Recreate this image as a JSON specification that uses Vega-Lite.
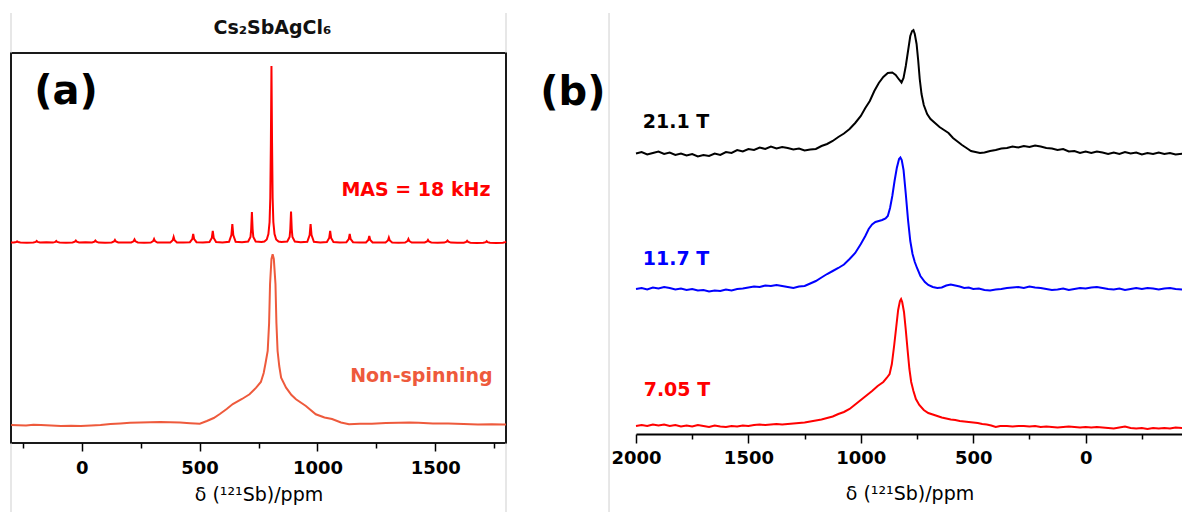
{
"$schema":"https://vega.github.io/schema/vega-lite/v6.json",
"padding":{"left":6,"top":11,"right":0,"bottom":0},
"background":"#ffffff",
"spacing":130,
"bounds":"flush",
"config":{"font":"DejaVu Sans","view":{"stroke":null},"axis":{"grid":false,"labelFont":"DejaVu Sans","titleFont":"DejaVu Sans","labelColor":"#000000","titleColor":"#000000","tickColor":"#000000"}},
"datasets":{
"grayA":[{"x":-300,"y":390,"y2":430},{"x":-300,"y":-70,"y2":0},{"x":1800,"y":390,"y2":430},{"x":1800,"y":-70,"y2":0}],
"grayB":[{"x":2120,"y":-79,"y2":421}],
"txtA":[{"t":"Cs₂SbAgCl₆","x":809,"y":415,"k":"title"},{"t":"(a)","x":-67,"y":351,"k":"big"},{"t":"MAS = 18 kHz","x":1418,"y":253,"k":"lab"},{"t":"Non-spinning","x":1441,"y":67,"k":"lab"}],
"txtB":[{"t":"(b)","x":2281,"y":341,"k":"big"},{"t":"21.1 T","x":1822,"y":312.5,"k":"lab"},{"t":"11.7 T","x":1822,"y":175,"k":"lab"},{"t":"7.05 T","x":1818,"y":44,"k":"lab"}],
"mas":[{"x":-300,"y":200.5},{"x":-288,"y":200.6},{"x":-278,"y":201},{"x":-274,"y":201.5},{"x":-270,"y":201},{"x":-260,"y":200.5},{"x":-233,"y":200.2},{"x":-205,"y":200.5},{"x":-195,"y":201.1},{"x":-191,"y":202},{"x":-187,"y":201.1},{"x":-177,"y":200.5},{"x":-150,"y":200.8},{"x":-122,"y":200.4},{"x":-112,"y":201.1},{"x":-108,"y":202},{"x":-104,"y":201.1},{"x":-94,"y":200.5},{"x":-67,"y":200.2},{"x":-39,"y":200.5},{"x":-29,"y":201.3},{"x":-25,"y":202.5},{"x":-21,"y":201.3},{"x":-11,"y":200.5},{"x":16,"y":200.7},{"x":44,"y":200.5},{"x":54,"y":201.3},{"x":58,"y":202.5},{"x":62,"y":201.3},{"x":72,"y":200.4},{"x":99,"y":200.3},{"x":127,"y":200.5},{"x":137,"y":201.5},{"x":141,"y":203},{"x":145,"y":201.5},{"x":155,"y":200.5},{"x":182,"y":200.6},{"x":210,"y":200.5},{"x":220,"y":201.7},{"x":224,"y":203.5},{"x":228,"y":201.7},{"x":238,"y":200.5},{"x":265,"y":200.3},{"x":293,"y":200.5},{"x":303,"y":201.9},{"x":307,"y":204},{"x":311,"y":201.9},{"x":321,"y":200.5},{"x":348,"y":200.6},{"x":376,"y":200.6},{"x":386,"y":202.7},{"x":390,"y":206},{"x":394,"y":202.7},{"x":404,"y":200.6},{"x":431,"y":200.4},{"x":459,"y":200.8},{"x":469,"y":203.9},{"x":473,"y":209},{"x":477,"y":203.9},{"x":487,"y":200.8},{"x":514,"y":200.5},{"x":542,"y":201},{"x":552,"y":205.1},{"x":556,"y":212},{"x":560,"y":205.1},{"x":570,"y":201},{"x":597,"y":200.6},{"x":625,"y":201.2},{"x":635,"y":207.9},{"x":639,"y":219},{"x":643,"y":207.9},{"x":653,"y":201.2},{"x":680,"y":200.7},{"x":706,"y":201.5},{"x":716,"y":206},{"x":719,"y":214},{"x":722,"y":231},{"x":725,"y":214},{"x":728,"y":206},{"x":738,"y":201.5},{"x":763,"y":201},{"x":775,"y":201.5},{"x":785,"y":203.5},{"x":792,"y":209},{"x":797,"y":221},{"x":800,"y":245},{"x":802.5,"y":300},{"x":805,"y":377},{"x":807.5,"y":300},{"x":810,"y":245},{"x":813,"y":221},{"x":818,"y":209},{"x":825,"y":203.5},{"x":835,"y":201.5},{"x":847,"y":201},{"x":872,"y":201.5},{"x":882,"y":206},{"x":885,"y":214},{"x":888,"y":231.5},{"x":891,"y":214},{"x":894,"y":206},{"x":904,"y":201.5},{"x":929,"y":200.8},{"x":957,"y":201.2},{"x":967,"y":207.9},{"x":971,"y":219},{"x":975,"y":207.9},{"x":985,"y":201.2},{"x":1012,"y":200.6},{"x":1040,"y":201},{"x":1050,"y":205.1},{"x":1054,"y":212},{"x":1058,"y":205.1},{"x":1068,"y":201},{"x":1095,"y":200.5},{"x":1123,"y":200.8},{"x":1133,"y":203.9},{"x":1137,"y":209},{"x":1141,"y":203.9},{"x":1151,"y":200.8},{"x":1178,"y":200.4},{"x":1206,"y":200.6},{"x":1216,"y":203.1},{"x":1220,"y":207},{"x":1224,"y":203.1},{"x":1234,"y":200.6},{"x":1261,"y":200.5},{"x":1289,"y":200.5},{"x":1299,"y":202.5},{"x":1303,"y":205.5},{"x":1307,"y":202.5},{"x":1317,"y":200.5},{"x":1344,"y":200.3},{"x":1372,"y":200.5},{"x":1382,"y":201.9},{"x":1386,"y":204},{"x":1390,"y":201.9},{"x":1400,"y":200.5},{"x":1427,"y":200.6},{"x":1455,"y":200.5},{"x":1465,"y":201.5},{"x":1469,"y":203},{"x":1473,"y":201.5},{"x":1483,"y":200.5},{"x":1510,"y":200.3},{"x":1538,"y":200.4},{"x":1548,"y":201.3},{"x":1552,"y":202.5},{"x":1556,"y":201.3},{"x":1566,"y":200.4},{"x":1593,"y":200.2},{"x":1621,"y":200.3},{"x":1631,"y":201.1},{"x":1635,"y":202.2},{"x":1639,"y":201.1},{"x":1649,"y":200.3},{"x":1676,"y":200},{"x":1704,"y":200.2},{"x":1714,"y":200.9},{"x":1718,"y":201.8},{"x":1722,"y":200.9},{"x":1732,"y":200.2},{"x":1759,"y":200},{"x":1787,"y":200.3},{"x":1797,"y":200.9},{"x":1800,"y":201.5}],
"ns":[{"x":-299,"y":18},{"x":-270,"y":17.8},{"x":-236,"y":17.5},{"x":-205,"y":18.2},{"x":-173,"y":18},{"x":-130,"y":17.6},{"x":-88,"y":17},{"x":-45,"y":17.3},{"x":-4,"y":17},{"x":40,"y":17.6},{"x":80,"y":18},{"x":122,"y":19},{"x":164,"y":19.5},{"x":205,"y":20.2},{"x":249,"y":20.5},{"x":290,"y":20.8},{"x":333,"y":21},{"x":375,"y":20.7},{"x":417,"y":20.5},{"x":460,"y":19.8},{"x":501,"y":19.3},{"x":531,"y":22},{"x":560,"y":25},{"x":586,"y":29},{"x":615,"y":34},{"x":641,"y":39},{"x":680,"y":44},{"x":712,"y":48.7},{"x":740,"y":55.3},{"x":760,"y":61},{"x":772,"y":70},{"x":780,"y":80},{"x":789,"y":92},{"x":795,"y":120},{"x":799,"y":159},{"x":805,"y":184},{"x":810,"y":188.7},{"x":815,"y":184},{"x":822,"y":159},{"x":826,"y":120},{"x":831,"y":92},{"x":838,"y":77},{"x":846,"y":65.3},{"x":867,"y":55.3},{"x":890,"y":48},{"x":909,"y":43.7},{"x":951,"y":37},{"x":993,"y":28.7},{"x":1030,"y":25.5},{"x":1062,"y":24},{"x":1100,"y":20.5},{"x":1134,"y":18.7},{"x":1180,"y":19.3},{"x":1231,"y":19.3},{"x":1290,"y":20},{"x":1344,"y":20.3},{"x":1390,"y":20.5},{"x":1429,"y":20.3},{"x":1490,"y":19.5},{"x":1555,"y":19.5},{"x":1620,"y":19},{"x":1681,"y":18.5},{"x":1740,"y":18.8},{"x":1787,"y":18.5},{"x":1800,"y":18.6}],
"b21":[{"x":2000,"y":280.5},{"x":1975,"y":282},{"x":1950,"y":279.5},{"x":1925,"y":281},{"x":1900,"y":282.5},{"x":1875,"y":280},{"x":1850,"y":281.5},{"x":1825,"y":279},{"x":1800,"y":280.5},{"x":1775,"y":278.5},{"x":1750,"y":280},{"x":1725,"y":277.5},{"x":1700,"y":279},{"x":1675,"y":278},{"x":1650,"y":280.5},{"x":1625,"y":279},{"x":1600,"y":282},{"x":1575,"y":281},{"x":1550,"y":284},{"x":1525,"y":282.5},{"x":1500,"y":285},{"x":1475,"y":284},{"x":1450,"y":286.5},{"x":1425,"y":285},{"x":1400,"y":287.5},{"x":1375,"y":285.5},{"x":1350,"y":287},{"x":1325,"y":286},{"x":1300,"y":284.5},{"x":1275,"y":285.5},{"x":1250,"y":283.5},{"x":1225,"y":284.5},{"x":1200,"y":285},{"x":1175,"y":288},{"x":1150,"y":290},{"x":1125,"y":293},{"x":1100,"y":297},{"x":1075,"y":300.5},{"x":1050,"y":305},{"x":1025,"y":311},{"x":1000,"y":318},{"x":980,"y":326},{"x":960,"y":333},{"x":940,"y":343},{"x":920,"y":351},{"x":900,"y":357},{"x":880,"y":361},{"x":860,"y":361.5},{"x":845,"y":359},{"x":830,"y":354.5},{"x":819,"y":351.5},{"x":810,"y":356},{"x":800,"y":368},{"x":790,"y":383},{"x":780,"y":398},{"x":772,"y":403},{"x":766,"y":404},{"x":760,"y":400},{"x":752,"y":390},{"x":745,"y":374},{"x":738,"y":355},{"x":730,"y":340},{"x":720,"y":329},{"x":705,"y":320},{"x":690,"y":315},{"x":670,"y":311},{"x":650,"y":307},{"x":630,"y":304},{"x":610,"y":301},{"x":590,"y":296},{"x":570,"y":292.5},{"x":550,"y":289},{"x":530,"y":286},{"x":510,"y":283},{"x":490,"y":282},{"x":470,"y":281},{"x":450,"y":281.5},{"x":425,"y":283},{"x":400,"y":284},{"x":375,"y":285.5},{"x":350,"y":286},{"x":325,"y":287.5},{"x":300,"y":286.5},{"x":275,"y":288},{"x":250,"y":287},{"x":225,"y":288.5},{"x":200,"y":287.5},{"x":175,"y":286},{"x":150,"y":285.5},{"x":125,"y":284},{"x":100,"y":285},{"x":75,"y":282.5},{"x":50,"y":283},{"x":25,"y":281},{"x":0,"y":282.5},{"x":-25,"y":281},{"x":-50,"y":282.5},{"x":-75,"y":281.5},{"x":-100,"y":280},{"x":-125,"y":281.5},{"x":-150,"y":280},{"x":-175,"y":282},{"x":-200,"y":280.5},{"x":-225,"y":281.5},{"x":-250,"y":279.5},{"x":-275,"y":281},{"x":-300,"y":280},{"x":-325,"y":281.5},{"x":-350,"y":280},{"x":-375,"y":281},{"x":-400,"y":279.5},{"x":-433,"y":280.5}],
"b11":[{"x":2000,"y":145},{"x":1975,"y":146},{"x":1950,"y":144.5},{"x":1925,"y":146.5},{"x":1900,"y":145.5},{"x":1875,"y":147},{"x":1850,"y":146},{"x":1825,"y":144.5},{"x":1800,"y":145.5},{"x":1775,"y":144},{"x":1750,"y":145},{"x":1725,"y":143.5},{"x":1700,"y":144},{"x":1675,"y":142.5},{"x":1650,"y":143.5},{"x":1625,"y":143},{"x":1600,"y":144.5},{"x":1575,"y":143.5},{"x":1550,"y":145},{"x":1525,"y":145.5},{"x":1500,"y":146.5},{"x":1475,"y":147.5},{"x":1450,"y":147},{"x":1425,"y":148.5},{"x":1400,"y":148},{"x":1375,"y":149},{"x":1350,"y":148},{"x":1325,"y":147},{"x":1300,"y":146},{"x":1275,"y":147.5},{"x":1250,"y":148},{"x":1225,"y":150.5},{"x":1200,"y":153},{"x":1175,"y":156.5},{"x":1150,"y":160},{"x":1125,"y":163},{"x":1100,"y":166},{"x":1075,"y":169.5},{"x":1050,"y":175},{"x":1025,"y":181},{"x":1000,"y":190},{"x":980,"y":198},{"x":965,"y":205},{"x":950,"y":209.5},{"x":935,"y":212},{"x":920,"y":213},{"x":905,"y":214},{"x":890,"y":215.5},{"x":880,"y":218},{"x":870,"y":226},{"x":860,"y":238},{"x":850,"y":253},{"x":840,"y":266},{"x":830,"y":275},{"x":824,"y":276.5},{"x":818,"y":274},{"x":810,"y":264},{"x":800,"y":240},{"x":790,"y":214},{"x":780,"y":193},{"x":770,"y":180},{"x":760,"y":172},{"x":750,"y":166},{"x":735,"y":158},{"x":715,"y":152},{"x":700,"y":149},{"x":680,"y":147},{"x":660,"y":146},{"x":640,"y":146.5},{"x":620,"y":148.5},{"x":600,"y":149.5},{"x":580,"y":148.5},{"x":560,"y":147.5},{"x":540,"y":146},{"x":520,"y":146.5},{"x":500,"y":145},{"x":475,"y":145.5},{"x":450,"y":144},{"x":425,"y":143.5},{"x":400,"y":144.5},{"x":375,"y":145},{"x":350,"y":146},{"x":325,"y":146.5},{"x":300,"y":147},{"x":275,"y":146},{"x":250,"y":147.5},{"x":225,"y":146.5},{"x":200,"y":146},{"x":175,"y":145},{"x":150,"y":144},{"x":125,"y":144.5},{"x":100,"y":145.5},{"x":75,"y":144},{"x":50,"y":145},{"x":25,"y":146},{"x":0,"y":145.5},{"x":-25,"y":146.5},{"x":-50,"y":147},{"x":-75,"y":146},{"x":-100,"y":145},{"x":-125,"y":144.5},{"x":-150,"y":145.5},{"x":-175,"y":144},{"x":-200,"y":145},{"x":-225,"y":146},{"x":-250,"y":145},{"x":-275,"y":146},{"x":-300,"y":145.5},{"x":-325,"y":144.5},{"x":-350,"y":145.5},{"x":-375,"y":146},{"x":-400,"y":145},{"x":-433,"y":144.5}],
"b7":[{"x":2000,"y":8},{"x":1975,"y":9},{"x":1950,"y":8},{"x":1925,"y":9.5},{"x":1900,"y":8.5},{"x":1875,"y":9.5},{"x":1850,"y":8},{"x":1825,"y":9},{"x":1800,"y":7.5},{"x":1775,"y":8.5},{"x":1750,"y":7.5},{"x":1725,"y":9},{"x":1700,"y":8},{"x":1675,"y":7},{"x":1650,"y":8.5},{"x":1625,"y":7.5},{"x":1600,"y":7},{"x":1575,"y":8},{"x":1550,"y":7.5},{"x":1525,"y":8.5},{"x":1500,"y":8},{"x":1475,"y":9},{"x":1450,"y":9.5},{"x":1425,"y":9},{"x":1400,"y":9.5},{"x":1375,"y":10},{"x":1350,"y":9.5},{"x":1325,"y":10},{"x":1300,"y":10.5},{"x":1275,"y":11},{"x":1250,"y":11.5},{"x":1225,"y":12.5},{"x":1200,"y":13.5},{"x":1175,"y":14.5},{"x":1150,"y":16},{"x":1125,"y":17.5},{"x":1100,"y":20},{"x":1075,"y":22},{"x":1050,"y":25},{"x":1025,"y":29.5},{"x":1000,"y":34},{"x":975,"y":38.5},{"x":950,"y":43},{"x":925,"y":48},{"x":900,"y":52},{"x":885,"y":56},{"x":872,"y":60},{"x":862,"y":70},{"x":852,"y":88},{"x":842,"y":108},{"x":834,"y":124},{"x":826,"y":133},{"x":821,"y":135},{"x":816,"y":132},{"x":808,"y":122},{"x":800,"y":104},{"x":792,"y":84},{"x":784,"y":65},{"x":776,"y":52},{"x":766,"y":43},{"x":755,"y":35},{"x":740,"y":29},{"x":720,"y":24},{"x":700,"y":21},{"x":680,"y":19.5},{"x":660,"y":18},{"x":640,"y":16.5},{"x":620,"y":15.5},{"x":600,"y":14.5},{"x":580,"y":14},{"x":560,"y":13},{"x":540,"y":12.5},{"x":520,"y":12},{"x":500,"y":11.5},{"x":480,"y":11},{"x":460,"y":10},{"x":440,"y":9.5},{"x":420,"y":8.5},{"x":400,"y":7},{"x":380,"y":8},{"x":350,"y":8},{"x":325,"y":7.5},{"x":300,"y":8},{"x":275,"y":8},{"x":250,"y":7.5},{"x":225,"y":8},{"x":200,"y":7},{"x":175,"y":7.5},{"x":150,"y":7},{"x":125,"y":6.5},{"x":100,"y":7},{"x":75,"y":7.5},{"x":50,"y":7},{"x":25,"y":6.5},{"x":0,"y":7},{"x":-25,"y":6.5},{"x":-50,"y":7},{"x":-75,"y":6.5},{"x":-100,"y":6},{"x":-125,"y":5.5},{"x":-150,"y":6.5},{"x":-175,"y":7.5},{"x":-200,"y":6},{"x":-225,"y":5.5},{"x":-250,"y":6},{"x":-275,"y":5},{"x":-300,"y":6},{"x":-325,"y":5.5},{"x":-350,"y":6},{"x":-375,"y":5.5},{"x":-400,"y":6.5},{"x":-433,"y":6}]
},
"hconcat":[
{"width":495,"height":390,
 "view":{"stroke":"#1a1a1a","strokeWidth":2},
 "encoding":{
  "x":{"field":"x","type":"quantitative","scale":{"domain":[-300,1800],"nice":false,"zero":false},
   "axis":{"title":"δ (¹²¹Sb)/ppm","values":[-250,0,250,500,750,1000,1250,1500,1750],"format":"d","labelExpr":"datum.value % 500 === 0 ? datum.label : ''","tickSize":{"condition":{"test":"datum.value % 500 === 0","value":8},"value":5},"tickWidth":1.5,"domain":false,"labelFontSize":18,"labelFontWeight":"bold","labelPadding":8,"labelFlush":false,"labelOverlap":false,"titleFontSize":19,"titleFontWeight":"normal","titlePadding":8}},
  "y":{"field":"y","type":"quantitative","scale":{"domain":[0,390],"nice":false,"zero":false},"axis":null}},
 "layer":[
  {"data":{"name":"grayA"},"mark":{"type":"rule","color":"#cfcfcf","strokeWidth":1},"encoding":{"y2":{"field":"y2"}}},
  {"data":{"name":"ns"},"mark":{"type":"line","color":"#ee5a3c","strokeWidth":2}},
  {"data":{"name":"mas"},"mark":{"type":"line","color":"#ff0000","strokeWidth":2}},
  {"data":{"name":"txtA"},"transform":[{"filter":"datum.k === 'title'"}],"mark":{"type":"text","fontSize":19,"fontWeight":"bold","align":"center","baseline":"middle","color":"#111111"},"encoding":{"text":{"field":"t"}}},
  {"data":{"name":"txtA"},"transform":[{"filter":"datum.k === 'big'"}],"mark":{"type":"text","fontSize":40,"fontWeight":"bold","align":"center","baseline":"middle","color":"#000000"},"encoding":{"text":{"field":"t"}}},
  {"data":{"name":"txtA"},"transform":[{"filter":"datum.k === 'lab'"}],"mark":{"type":"text","fontSize":19,"fontWeight":"bold","align":"center","baseline":"middle"},"encoding":{"text":{"field":"t"},"color":{"field":"t","type":"nominal","scale":{"domain":["MAS = 18 kHz","Non-spinning","21.1 T","11.7 T","7.05 T"],"range":["#ff0000","#ee5a3c","#000000","#0000ff","#ff0000"]},"legend":null}}}
 ]},
{"width":547,"height":381,
 "encoding":{
  "x":{"field":"x","type":"quantitative","scale":{"domain":[-433,2000],"reverse":true,"nice":false,"zero":false},
   "axis":{"title":"δ (¹²¹Sb)/ppm","values":[2000,1750,1500,1250,1000,750,500,250,0,-250],"format":"d","labelExpr":"datum.value % 500 === 0 ? datum.label : ''","tickSize":{"condition":{"test":"datum.value % 500 === 0","value":9},"value":5},"tickWidth":1.5,"domain":true,"domainColor":"#000000","domainWidth":2,"labelFontSize":18,"labelFontWeight":"bold","labelPadding":6,"labelFlush":false,"labelOverlap":false,"titleFontSize":19,"titleFontWeight":"normal","titlePadding":17}},
  "y":{"field":"y","type":"quantitative","scale":{"domain":[0,381],"nice":false,"zero":false},"axis":null}},
 "layer":[
  {"data":{"name":"grayB"},"mark":{"type":"rule","color":"#cfcfcf","strokeWidth":1},"encoding":{"y2":{"field":"y2"}}},
  {"data":{"name":"b21"},"mark":{"type":"line","color":"#000000","strokeWidth":2}},
  {"data":{"name":"b11"},"mark":{"type":"line","color":"#0000ff","strokeWidth":2}},
  {"data":{"name":"b7"},"mark":{"type":"line","color":"#ff0000","strokeWidth":2}},
  {"data":{"name":"txtB"},"transform":[{"filter":"datum.k === 'big'"}],"mark":{"type":"text","fontSize":40,"fontWeight":"bold","align":"center","baseline":"middle","color":"#000000"},"encoding":{"text":{"field":"t"}}},
  {"data":{"name":"txtB"},"transform":[{"filter":"datum.k === 'lab'"}],"mark":{"type":"text","fontSize":19,"fontWeight":"bold","align":"center","baseline":"middle"},"encoding":{"text":{"field":"t"},"color":{"field":"t","type":"nominal","scale":{"domain":["MAS = 18 kHz","Non-spinning","21.1 T","11.7 T","7.05 T"],"range":["#ff0000","#ee5a3c","#000000","#0000ff","#ff0000"]},"legend":null}}}
 ]}
]
}
